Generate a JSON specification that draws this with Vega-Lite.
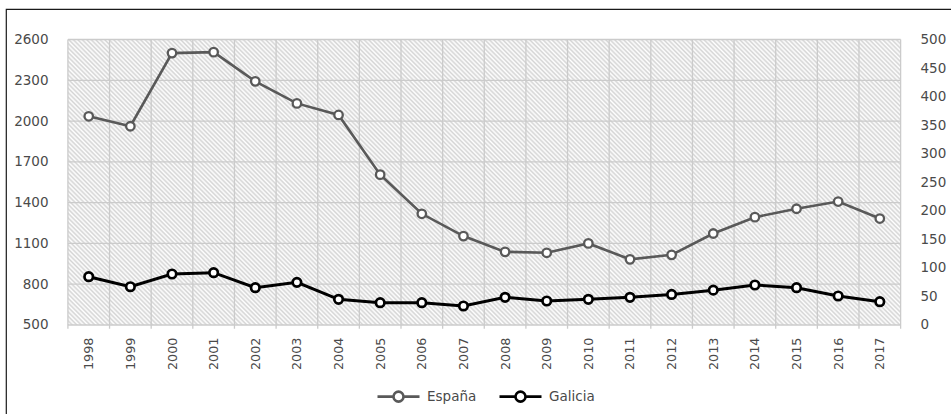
{
  "$schema": "https://vega.github.io/schema/vega-lite/v6.json",
  "width": 947,
  "height": 407,
  "autosize": {"type": "none"},
  "padding": {"left": 6, "top": 9, "right": -2, "bottom": -2},
  "background": "white",
  "config": {
    "view": {"stroke": "#1a1a1a", "strokeWidth": 1.2},
    "font": "DejaVu Sans"
  },
  "datasets": {
    "series": [
      {"year": 1998, "Espana": 2035, "Galicia": 84.6},
      {"year": 1999, "Espana": 1962, "Galicia": 67},
      {"year": 2000, "Espana": 2500, "Galicia": 89.3},
      {"year": 2001, "Espana": 2507, "Galicia": 91.6},
      {"year": 2002, "Espana": 2292, "Galicia": 65.3},
      {"year": 2003, "Espana": 2130, "Galicia": 74.7},
      {"year": 2004, "Espana": 2045, "Galicia": 45},
      {"year": 2005, "Espana": 1606, "Galicia": 39},
      {"year": 2006, "Espana": 1318, "Galicia": 39},
      {"year": 2007, "Espana": 1154, "Galicia": 33.3},
      {"year": 2008, "Espana": 1038, "Galicia": 48.5},
      {"year": 2009, "Espana": 1031, "Galicia": 42},
      {"year": 2010, "Espana": 1100, "Galicia": 45},
      {"year": 2011, "Espana": 983, "Galicia": 48.5},
      {"year": 2012, "Espana": 1016, "Galicia": 53.5},
      {"year": 2013, "Espana": 1173, "Galicia": 61},
      {"year": 2014, "Espana": 1293, "Galicia": 70},
      {"year": 2015, "Espana": 1355, "Galicia": 65.3},
      {"year": 2016, "Espana": 1408, "Galicia": 50.8},
      {"year": 2017, "Espana": 1283, "Galicia": 40.8}
    ],
    "xgrid": [
      {"b": 1997.5}, {"b": 1998.5}, {"b": 1999.5}, {"b": 2000.5}, {"b": 2001.5},
      {"b": 2002.5}, {"b": 2003.5}, {"b": 2004.5}, {"b": 2005.5}, {"b": 2006.5},
      {"b": 2007.5}, {"b": 2008.5}, {"b": 2009.5}, {"b": 2010.5}, {"b": 2011.5},
      {"b": 2012.5}, {"b": 2013.5}, {"b": 2014.5}, {"b": 2015.5}, {"b": 2016.5},
      {"b": 2017.5}
    ],
    "ygrid": [
      {"v": 500}, {"v": 800}, {"v": 1100}, {"v": 1400}, {"v": 1700},
      {"v": 2000}, {"v": 2300}, {"v": 2600}
    ],
    "one": [{"k": 1}]
  },
  "data": {"name": "series"},
  "layer": [
    {
      "layer": [
        {
          "data": {"name": "one"},
          "mark": {"type": "rect", "stroke": null, "fill": {"gradient": "linear", "x1": 0, "y1": 1, "x2": 1.2016, "y2": 0.588, "stops": [
{"offset":0,"color":"#d4d4d4"},{"offset":0.002,"color":"#fff"},{"offset":0.004,"color":"#d4d4d4"},{"offset":0.006,"color":"#fff"},{"offset":0.008,"color":"#d4d4d4"},{"offset":0.01,"color":"#fff"},{"offset":0.012,"color":"#d4d4d4"},{"offset":0.014,"color":"#fff"},{"offset":0.016,"color":"#d4d4d4"},{"offset":0.018,"color":"#fff"},
{"offset":0.02,"color":"#d4d4d4"},{"offset":0.022,"color":"#fff"},{"offset":0.024,"color":"#d4d4d4"},{"offset":0.026,"color":"#fff"},{"offset":0.028,"color":"#d4d4d4"},{"offset":0.03,"color":"#fff"},{"offset":0.032,"color":"#d4d4d4"},{"offset":0.034,"color":"#fff"},{"offset":0.036,"color":"#d4d4d4"},{"offset":0.038,"color":"#fff"},
{"offset":0.04,"color":"#d4d4d4"},{"offset":0.042,"color":"#fff"},{"offset":0.044,"color":"#d4d4d4"},{"offset":0.046,"color":"#fff"},{"offset":0.048,"color":"#d4d4d4"},{"offset":0.05,"color":"#fff"},{"offset":0.052,"color":"#d4d4d4"},{"offset":0.054,"color":"#fff"},{"offset":0.056,"color":"#d4d4d4"},{"offset":0.058,"color":"#fff"},
{"offset":0.06,"color":"#d4d4d4"},{"offset":0.062,"color":"#fff"},{"offset":0.064,"color":"#d4d4d4"},{"offset":0.066,"color":"#fff"},{"offset":0.068,"color":"#d4d4d4"},{"offset":0.07,"color":"#fff"},{"offset":0.072,"color":"#d4d4d4"},{"offset":0.074,"color":"#fff"},{"offset":0.076,"color":"#d4d4d4"},{"offset":0.078,"color":"#fff"},
{"offset":0.08,"color":"#d4d4d4"},{"offset":0.082,"color":"#fff"},{"offset":0.084,"color":"#d4d4d4"},{"offset":0.086,"color":"#fff"},{"offset":0.088,"color":"#d4d4d4"},{"offset":0.09,"color":"#fff"},{"offset":0.092,"color":"#d4d4d4"},{"offset":0.094,"color":"#fff"},{"offset":0.096,"color":"#d4d4d4"},{"offset":0.098,"color":"#fff"},
{"offset":0.1,"color":"#d4d4d4"},{"offset":0.102,"color":"#fff"},{"offset":0.104,"color":"#d4d4d4"},{"offset":0.106,"color":"#fff"},{"offset":0.108,"color":"#d4d4d4"},{"offset":0.11,"color":"#fff"},{"offset":0.112,"color":"#d4d4d4"},{"offset":0.114,"color":"#fff"},{"offset":0.116,"color":"#d4d4d4"},{"offset":0.118,"color":"#fff"},
{"offset":0.12,"color":"#d4d4d4"},{"offset":0.122,"color":"#fff"},{"offset":0.124,"color":"#d4d4d4"},{"offset":0.126,"color":"#fff"},{"offset":0.128,"color":"#d4d4d4"},{"offset":0.13,"color":"#fff"},{"offset":0.132,"color":"#d4d4d4"},{"offset":0.134,"color":"#fff"},{"offset":0.136,"color":"#d4d4d4"},{"offset":0.138,"color":"#fff"},
{"offset":0.14,"color":"#d4d4d4"},{"offset":0.142,"color":"#fff"},{"offset":0.144,"color":"#d4d4d4"},{"offset":0.146,"color":"#fff"},{"offset":0.148,"color":"#d4d4d4"},{"offset":0.15,"color":"#fff"},{"offset":0.152,"color":"#d4d4d4"},{"offset":0.154,"color":"#fff"},{"offset":0.156,"color":"#d4d4d4"},{"offset":0.158,"color":"#fff"},
{"offset":0.16,"color":"#d4d4d4"},{"offset":0.162,"color":"#fff"},{"offset":0.164,"color":"#d4d4d4"},{"offset":0.166,"color":"#fff"},{"offset":0.168,"color":"#d4d4d4"},{"offset":0.17,"color":"#fff"},{"offset":0.172,"color":"#d4d4d4"},{"offset":0.174,"color":"#fff"},{"offset":0.176,"color":"#d4d4d4"},{"offset":0.178,"color":"#fff"},
{"offset":0.18,"color":"#d4d4d4"},{"offset":0.182,"color":"#fff"},{"offset":0.184,"color":"#d4d4d4"},{"offset":0.186,"color":"#fff"},{"offset":0.188,"color":"#d4d4d4"},{"offset":0.19,"color":"#fff"},{"offset":0.192,"color":"#d4d4d4"},{"offset":0.194,"color":"#fff"},{"offset":0.196,"color":"#d4d4d4"},{"offset":0.198,"color":"#fff"},
{"offset":0.2,"color":"#d4d4d4"},{"offset":0.202,"color":"#fff"},{"offset":0.204,"color":"#d4d4d4"},{"offset":0.206,"color":"#fff"},{"offset":0.208,"color":"#d4d4d4"},{"offset":0.21,"color":"#fff"},{"offset":0.212,"color":"#d4d4d4"},{"offset":0.214,"color":"#fff"},{"offset":0.216,"color":"#d4d4d4"},{"offset":0.218,"color":"#fff"},
{"offset":0.22,"color":"#d4d4d4"},{"offset":0.222,"color":"#fff"},{"offset":0.224,"color":"#d4d4d4"},{"offset":0.226,"color":"#fff"},{"offset":0.228,"color":"#d4d4d4"},{"offset":0.23,"color":"#fff"},{"offset":0.232,"color":"#d4d4d4"},{"offset":0.234,"color":"#fff"},{"offset":0.236,"color":"#d4d4d4"},{"offset":0.238,"color":"#fff"},
{"offset":0.24,"color":"#d4d4d4"},{"offset":0.242,"color":"#fff"},{"offset":0.244,"color":"#d4d4d4"},{"offset":0.246,"color":"#fff"},{"offset":0.248,"color":"#d4d4d4"},{"offset":0.25,"color":"#fff"},{"offset":0.252,"color":"#d4d4d4"},{"offset":0.254,"color":"#fff"},{"offset":0.256,"color":"#d4d4d4"},{"offset":0.258,"color":"#fff"},
{"offset":0.26,"color":"#d4d4d4"},{"offset":0.262,"color":"#fff"},{"offset":0.264,"color":"#d4d4d4"},{"offset":0.266,"color":"#fff"},{"offset":0.268,"color":"#d4d4d4"},{"offset":0.27,"color":"#fff"},{"offset":0.272,"color":"#d4d4d4"},{"offset":0.274,"color":"#fff"},{"offset":0.276,"color":"#d4d4d4"},{"offset":0.278,"color":"#fff"},
{"offset":0.28,"color":"#d4d4d4"},{"offset":0.282,"color":"#fff"},{"offset":0.284,"color":"#d4d4d4"},{"offset":0.286,"color":"#fff"},{"offset":0.288,"color":"#d4d4d4"},{"offset":0.29,"color":"#fff"},{"offset":0.292,"color":"#d4d4d4"},{"offset":0.294,"color":"#fff"},{"offset":0.296,"color":"#d4d4d4"},{"offset":0.298,"color":"#fff"},
{"offset":0.3,"color":"#d4d4d4"},{"offset":0.302,"color":"#fff"},{"offset":0.304,"color":"#d4d4d4"},{"offset":0.306,"color":"#fff"},{"offset":0.308,"color":"#d4d4d4"},{"offset":0.31,"color":"#fff"},{"offset":0.312,"color":"#d4d4d4"},{"offset":0.314,"color":"#fff"},{"offset":0.316,"color":"#d4d4d4"},{"offset":0.318,"color":"#fff"},
{"offset":0.32,"color":"#d4d4d4"},{"offset":0.322,"color":"#fff"},{"offset":0.324,"color":"#d4d4d4"},{"offset":0.326,"color":"#fff"},{"offset":0.328,"color":"#d4d4d4"},{"offset":0.33,"color":"#fff"},{"offset":0.332,"color":"#d4d4d4"},{"offset":0.334,"color":"#fff"},{"offset":0.336,"color":"#d4d4d4"},{"offset":0.338,"color":"#fff"},
{"offset":0.34,"color":"#d4d4d4"},{"offset":0.342,"color":"#fff"},{"offset":0.344,"color":"#d4d4d4"},{"offset":0.346,"color":"#fff"},{"offset":0.348,"color":"#d4d4d4"},{"offset":0.35,"color":"#fff"},{"offset":0.352,"color":"#d4d4d4"},{"offset":0.354,"color":"#fff"},{"offset":0.356,"color":"#d4d4d4"},{"offset":0.358,"color":"#fff"},
{"offset":0.36,"color":"#d4d4d4"},{"offset":0.362,"color":"#fff"},{"offset":0.364,"color":"#d4d4d4"},{"offset":0.366,"color":"#fff"},{"offset":0.368,"color":"#d4d4d4"},{"offset":0.37,"color":"#fff"},{"offset":0.372,"color":"#d4d4d4"},{"offset":0.374,"color":"#fff"},{"offset":0.376,"color":"#d4d4d4"},{"offset":0.378,"color":"#fff"},
{"offset":0.38,"color":"#d4d4d4"},{"offset":0.382,"color":"#fff"},{"offset":0.384,"color":"#d4d4d4"},{"offset":0.386,"color":"#fff"},{"offset":0.388,"color":"#d4d4d4"},{"offset":0.39,"color":"#fff"},{"offset":0.392,"color":"#d4d4d4"},{"offset":0.394,"color":"#fff"},{"offset":0.396,"color":"#d4d4d4"},{"offset":0.398,"color":"#fff"},
{"offset":0.4,"color":"#d4d4d4"},{"offset":0.402,"color":"#fff"},{"offset":0.404,"color":"#d4d4d4"},{"offset":0.406,"color":"#fff"},{"offset":0.408,"color":"#d4d4d4"},{"offset":0.41,"color":"#fff"},{"offset":0.412,"color":"#d4d4d4"},{"offset":0.414,"color":"#fff"},{"offset":0.416,"color":"#d4d4d4"},{"offset":0.418,"color":"#fff"},
{"offset":0.42,"color":"#d4d4d4"},{"offset":0.422,"color":"#fff"},{"offset":0.424,"color":"#d4d4d4"},{"offset":0.426,"color":"#fff"},{"offset":0.428,"color":"#d4d4d4"},{"offset":0.43,"color":"#fff"},{"offset":0.432,"color":"#d4d4d4"},{"offset":0.434,"color":"#fff"},{"offset":0.436,"color":"#d4d4d4"},{"offset":0.438,"color":"#fff"},
{"offset":0.44,"color":"#d4d4d4"},{"offset":0.442,"color":"#fff"},{"offset":0.444,"color":"#d4d4d4"},{"offset":0.446,"color":"#fff"},{"offset":0.448,"color":"#d4d4d4"},{"offset":0.45,"color":"#fff"},{"offset":0.452,"color":"#d4d4d4"},{"offset":0.454,"color":"#fff"},{"offset":0.456,"color":"#d4d4d4"},{"offset":0.458,"color":"#fff"},
{"offset":0.46,"color":"#d4d4d4"},{"offset":0.462,"color":"#fff"},{"offset":0.464,"color":"#d4d4d4"},{"offset":0.466,"color":"#fff"},{"offset":0.468,"color":"#d4d4d4"},{"offset":0.47,"color":"#fff"},{"offset":0.472,"color":"#d4d4d4"},{"offset":0.474,"color":"#fff"},{"offset":0.476,"color":"#d4d4d4"},{"offset":0.478,"color":"#fff"},
{"offset":0.48,"color":"#d4d4d4"},{"offset":0.482,"color":"#fff"},{"offset":0.484,"color":"#d4d4d4"},{"offset":0.486,"color":"#fff"},{"offset":0.488,"color":"#d4d4d4"},{"offset":0.49,"color":"#fff"},{"offset":0.492,"color":"#d4d4d4"},{"offset":0.494,"color":"#fff"},{"offset":0.496,"color":"#d4d4d4"},{"offset":0.498,"color":"#fff"},
{"offset":0.5,"color":"#d4d4d4"},{"offset":0.502,"color":"#fff"},{"offset":0.504,"color":"#d4d4d4"},{"offset":0.506,"color":"#fff"},{"offset":0.508,"color":"#d4d4d4"},{"offset":0.51,"color":"#fff"},{"offset":0.512,"color":"#d4d4d4"},{"offset":0.514,"color":"#fff"},{"offset":0.516,"color":"#d4d4d4"},{"offset":0.518,"color":"#fff"},
{"offset":0.52,"color":"#d4d4d4"},{"offset":0.522,"color":"#fff"},{"offset":0.524,"color":"#d4d4d4"},{"offset":0.526,"color":"#fff"},{"offset":0.528,"color":"#d4d4d4"},{"offset":0.53,"color":"#fff"},{"offset":0.532,"color":"#d4d4d4"},{"offset":0.534,"color":"#fff"},{"offset":0.536,"color":"#d4d4d4"},{"offset":0.538,"color":"#fff"},
{"offset":0.54,"color":"#d4d4d4"},{"offset":0.542,"color":"#fff"},{"offset":0.544,"color":"#d4d4d4"},{"offset":0.546,"color":"#fff"},{"offset":0.548,"color":"#d4d4d4"},{"offset":0.55,"color":"#fff"},{"offset":0.552,"color":"#d4d4d4"},{"offset":0.554,"color":"#fff"},{"offset":0.556,"color":"#d4d4d4"},{"offset":0.558,"color":"#fff"},
{"offset":0.56,"color":"#d4d4d4"},{"offset":0.562,"color":"#fff"},{"offset":0.564,"color":"#d4d4d4"},{"offset":0.566,"color":"#fff"},{"offset":0.568,"color":"#d4d4d4"},{"offset":0.57,"color":"#fff"},{"offset":0.572,"color":"#d4d4d4"},{"offset":0.574,"color":"#fff"},{"offset":0.576,"color":"#d4d4d4"},{"offset":0.578,"color":"#fff"},
{"offset":0.58,"color":"#d4d4d4"},{"offset":0.582,"color":"#fff"},{"offset":0.584,"color":"#d4d4d4"},{"offset":0.586,"color":"#fff"},{"offset":0.588,"color":"#d4d4d4"},{"offset":0.59,"color":"#fff"},{"offset":0.592,"color":"#d4d4d4"},{"offset":0.594,"color":"#fff"},{"offset":0.596,"color":"#d4d4d4"},{"offset":0.598,"color":"#fff"},
{"offset":0.6,"color":"#d4d4d4"},{"offset":0.602,"color":"#fff"},{"offset":0.604,"color":"#d4d4d4"},{"offset":0.606,"color":"#fff"},{"offset":0.608,"color":"#d4d4d4"},{"offset":0.61,"color":"#fff"},{"offset":0.612,"color":"#d4d4d4"},{"offset":0.614,"color":"#fff"},{"offset":0.616,"color":"#d4d4d4"},{"offset":0.618,"color":"#fff"},
{"offset":0.62,"color":"#d4d4d4"},{"offset":0.622,"color":"#fff"},{"offset":0.624,"color":"#d4d4d4"},{"offset":0.626,"color":"#fff"},{"offset":0.628,"color":"#d4d4d4"},{"offset":0.63,"color":"#fff"},{"offset":0.632,"color":"#d4d4d4"},{"offset":0.634,"color":"#fff"},{"offset":0.636,"color":"#d4d4d4"},{"offset":0.638,"color":"#fff"},
{"offset":0.64,"color":"#d4d4d4"},{"offset":0.642,"color":"#fff"},{"offset":0.644,"color":"#d4d4d4"},{"offset":0.646,"color":"#fff"},{"offset":0.648,"color":"#d4d4d4"},{"offset":0.65,"color":"#fff"},{"offset":0.652,"color":"#d4d4d4"},{"offset":0.654,"color":"#fff"},{"offset":0.656,"color":"#d4d4d4"},{"offset":0.658,"color":"#fff"},
{"offset":0.66,"color":"#d4d4d4"},{"offset":0.662,"color":"#fff"},{"offset":0.664,"color":"#d4d4d4"},{"offset":0.666,"color":"#fff"},{"offset":0.668,"color":"#d4d4d4"},{"offset":0.67,"color":"#fff"},{"offset":0.672,"color":"#d4d4d4"},{"offset":0.674,"color":"#fff"},{"offset":0.676,"color":"#d4d4d4"},{"offset":0.678,"color":"#fff"},
{"offset":0.68,"color":"#d4d4d4"},{"offset":0.682,"color":"#fff"},{"offset":0.684,"color":"#d4d4d4"},{"offset":0.686,"color":"#fff"},{"offset":0.688,"color":"#d4d4d4"},{"offset":0.69,"color":"#fff"},{"offset":0.692,"color":"#d4d4d4"},{"offset":0.694,"color":"#fff"},{"offset":0.696,"color":"#d4d4d4"},{"offset":0.698,"color":"#fff"},
{"offset":0.7,"color":"#d4d4d4"},{"offset":0.702,"color":"#fff"},{"offset":0.704,"color":"#d4d4d4"},{"offset":0.706,"color":"#fff"},{"offset":0.708,"color":"#d4d4d4"},{"offset":0.71,"color":"#fff"},{"offset":0.712,"color":"#d4d4d4"},{"offset":0.714,"color":"#fff"},{"offset":0.716,"color":"#d4d4d4"},{"offset":0.718,"color":"#fff"},
{"offset":0.72,"color":"#d4d4d4"},{"offset":0.722,"color":"#fff"},{"offset":0.724,"color":"#d4d4d4"},{"offset":0.726,"color":"#fff"},{"offset":0.728,"color":"#d4d4d4"},{"offset":0.73,"color":"#fff"},{"offset":0.732,"color":"#d4d4d4"},{"offset":0.734,"color":"#fff"},{"offset":0.736,"color":"#d4d4d4"},{"offset":0.738,"color":"#fff"},
{"offset":0.74,"color":"#d4d4d4"},{"offset":0.742,"color":"#fff"},{"offset":0.744,"color":"#d4d4d4"},{"offset":0.746,"color":"#fff"},{"offset":0.748,"color":"#d4d4d4"},{"offset":0.75,"color":"#fff"},{"offset":0.752,"color":"#d4d4d4"},{"offset":0.754,"color":"#fff"},{"offset":0.756,"color":"#d4d4d4"},{"offset":0.758,"color":"#fff"},
{"offset":0.76,"color":"#d4d4d4"},{"offset":0.762,"color":"#fff"},{"offset":0.764,"color":"#d4d4d4"},{"offset":0.766,"color":"#fff"},{"offset":0.768,"color":"#d4d4d4"},{"offset":0.77,"color":"#fff"},{"offset":0.772,"color":"#d4d4d4"},{"offset":0.774,"color":"#fff"},{"offset":0.776,"color":"#d4d4d4"},{"offset":0.778,"color":"#fff"},
{"offset":0.78,"color":"#d4d4d4"},{"offset":0.782,"color":"#fff"},{"offset":0.784,"color":"#d4d4d4"},{"offset":0.786,"color":"#fff"},{"offset":0.788,"color":"#d4d4d4"},{"offset":0.79,"color":"#fff"},{"offset":0.792,"color":"#d4d4d4"},{"offset":0.794,"color":"#fff"},{"offset":0.796,"color":"#d4d4d4"},{"offset":0.798,"color":"#fff"},
{"offset":0.8,"color":"#d4d4d4"},{"offset":0.802,"color":"#fff"},{"offset":0.804,"color":"#d4d4d4"},{"offset":0.806,"color":"#fff"},{"offset":0.808,"color":"#d4d4d4"},{"offset":0.81,"color":"#fff"},{"offset":0.812,"color":"#d4d4d4"},{"offset":0.814,"color":"#fff"},{"offset":0.816,"color":"#d4d4d4"},{"offset":0.818,"color":"#fff"},
{"offset":0.82,"color":"#d4d4d4"},{"offset":0.822,"color":"#fff"},{"offset":0.824,"color":"#d4d4d4"},{"offset":0.826,"color":"#fff"},{"offset":0.828,"color":"#d4d4d4"},{"offset":0.83,"color":"#fff"},{"offset":0.832,"color":"#d4d4d4"},{"offset":0.834,"color":"#fff"},{"offset":0.836,"color":"#d4d4d4"},{"offset":0.838,"color":"#fff"},
{"offset":0.84,"color":"#d4d4d4"},{"offset":0.842,"color":"#fff"},{"offset":0.844,"color":"#d4d4d4"},{"offset":0.846,"color":"#fff"},{"offset":0.848,"color":"#d4d4d4"},{"offset":0.85,"color":"#fff"},{"offset":0.852,"color":"#d4d4d4"},{"offset":0.854,"color":"#fff"},{"offset":0.856,"color":"#d4d4d4"},{"offset":0.858,"color":"#fff"},
{"offset":0.86,"color":"#d4d4d4"},{"offset":0.862,"color":"#fff"},{"offset":0.864,"color":"#d4d4d4"},{"offset":0.866,"color":"#fff"},{"offset":0.868,"color":"#d4d4d4"},{"offset":0.87,"color":"#fff"},{"offset":0.872,"color":"#d4d4d4"},{"offset":0.874,"color":"#fff"},{"offset":0.876,"color":"#d4d4d4"},{"offset":0.878,"color":"#fff"},
{"offset":0.88,"color":"#d4d4d4"},{"offset":0.882,"color":"#fff"},{"offset":0.884,"color":"#d4d4d4"},{"offset":0.886,"color":"#fff"},{"offset":0.888,"color":"#d4d4d4"},{"offset":0.89,"color":"#fff"},{"offset":0.892,"color":"#d4d4d4"},{"offset":0.894,"color":"#fff"},{"offset":0.896,"color":"#d4d4d4"},{"offset":0.898,"color":"#fff"},
{"offset":0.9,"color":"#d4d4d4"},{"offset":0.902,"color":"#fff"},{"offset":0.904,"color":"#d4d4d4"},{"offset":0.906,"color":"#fff"},{"offset":0.908,"color":"#d4d4d4"},{"offset":0.91,"color":"#fff"},{"offset":0.912,"color":"#d4d4d4"},{"offset":0.914,"color":"#fff"},{"offset":0.916,"color":"#d4d4d4"},{"offset":0.918,"color":"#fff"},
{"offset":0.92,"color":"#d4d4d4"},{"offset":0.922,"color":"#fff"},{"offset":0.924,"color":"#d4d4d4"},{"offset":0.926,"color":"#fff"},{"offset":0.928,"color":"#d4d4d4"},{"offset":0.93,"color":"#fff"},{"offset":0.932,"color":"#d4d4d4"},{"offset":0.934,"color":"#fff"},{"offset":0.936,"color":"#d4d4d4"},{"offset":0.938,"color":"#fff"},
{"offset":0.94,"color":"#d4d4d4"},{"offset":0.942,"color":"#fff"},{"offset":0.944,"color":"#d4d4d4"},{"offset":0.946,"color":"#fff"},{"offset":0.948,"color":"#d4d4d4"},{"offset":0.95,"color":"#fff"},{"offset":0.952,"color":"#d4d4d4"},{"offset":0.954,"color":"#fff"},{"offset":0.956,"color":"#d4d4d4"},{"offset":0.958,"color":"#fff"},
{"offset":0.96,"color":"#d4d4d4"},{"offset":0.962,"color":"#fff"},{"offset":0.964,"color":"#d4d4d4"},{"offset":0.966,"color":"#fff"},{"offset":0.968,"color":"#d4d4d4"},{"offset":0.97,"color":"#fff"},{"offset":0.972,"color":"#d4d4d4"},{"offset":0.974,"color":"#fff"},{"offset":0.976,"color":"#d4d4d4"},{"offset":0.978,"color":"#fff"},
{"offset":0.98,"color":"#d4d4d4"},{"offset":0.982,"color":"#fff"},{"offset":0.984,"color":"#d4d4d4"},{"offset":0.986,"color":"#fff"},{"offset":0.988,"color":"#d4d4d4"},{"offset":0.99,"color":"#fff"},{"offset":0.992,"color":"#d4d4d4"},{"offset":0.994,"color":"#fff"},{"offset":0.996,"color":"#d4d4d4"},{"offset":0.998,"color":"#fff"},
{"offset":1,"color":"#d4d4d4"}
          ]}},
          "encoding": {
            "x": {"datum": 1997.5, "type": "quantitative", "scale": {"domain": [1996.013, 2018.758], "nice": false, "zero": false}, "title": null},
            "x2": {"datum": 2017.5},
            "y": {"datum": 500, "type": "quantitative", "scale": {"domain": [-169.35, 2824.3], "nice": false, "zero": false}, "title": null},
            "y2": {"datum": 2600}
          }
        },
        {
          "data": {"name": "xgrid"},
          "mark": {"type": "rule", "color": "#cbcbcb", "strokeWidth": 1.3},
          "encoding": {
            "x": {"field": "b", "type": "quantitative", "title": null},
            "y": {"datum": 472, "type": "quantitative", "title": null},
            "y2": {"datum": 2600}
          }
        },
        {
          "data": {"name": "ygrid"},
          "mark": {"type": "rule", "color": "#cbcbcb", "strokeWidth": 1.3},
          "encoding": {
            "y": {"field": "v", "type": "quantitative", "title": null},
            "x": {"datum": 1997.5, "type": "quantitative", "title": null},
            "x2": {"datum": 2017.5}
          }
        },
        {
          "mark": {"type": "line", "strokeWidth": 2.6, "point": {"filled": false, "fill": "white", "size": 72, "strokeWidth": 2.3}},
          "encoding": {
            "x": {
              "field": "year", "type": "quantitative", "title": null,
              "axis": {
                "orient": "bottom", "values": [1998,1999,2000,2001,2002,2003,2004,2005,2006,2007,2008,2009,2010,2011,2012,2013,2014,2015,2016,2017],
                "format": "d", "labelAngle": -90, "labelFontSize": 12.8, "labelColor": "#4a4a4a",
                "labelFont": "DejaVu Sans", "domain": false, "ticks": false, "tickSize": 0, "grid": false,
                "labelPadding": 3, "offset": -82, "labelOverlap": false, "labelFlush": false
              }
            },
            "y": {
              "field": "Espana", "type": "quantitative", "title": null,
              "axis": {
                "orient": "left", "values": [500, 800, 1100, 1400, 1700, 2000, 2300, 2600], "format": "d",
                "labelFontSize": 13.5, "labelColor": "#4a4a4a", "labelFont": "DejaVu Sans",
                "domain": false, "ticks": false, "tickSize": 0, "grid": false,
                "labelPadding": 2, "offset": -44, "labelOverlap": false, "labelFlush": false
              }
            },
            "color": {
              "datum": "España", "type": "nominal",
              "scale": {"domain": ["España", "Galicia"], "range": ["#595959", "#000000"]},
              "legend": {
                "title": null, "orient": "none", "direction": "horizontal",
                "legendX": 370, "legendY": 365, "padding": 0,
                "symbolType": "M-1,0L-0.238,0M0.238,0L1,0M0.238,0A0.238,0.238,0,1,1,-0.238,0A0.238,0.238,0,1,1,0.238,0Z",
                "symbolSize": 1764, "symbolStrokeWidth": 2.6, "symbolFillColor": "white",
                "labelFontSize": 13.5, "labelColor": "#4a4a4a", "labelFont": "DejaVu Sans",
                "labelOffset": 6, "columnPadding": 17,
                "encode": {"symbols": {"update": {"fill": {"value": "white"}, "strokeWidth": {"value": 2.6}}}}
              }
            }
          }
        }
      ]
    },
    {
      "mark": {"type": "line", "strokeWidth": 3, "point": {"filled": false, "fill": "white", "size": 72, "strokeWidth": 2.7}},
      "encoding": {
        "x": {"field": "year", "type": "quantitative", "title": null},
        "y": {
          "field": "Galicia", "type": "quantitative", "title": null,
          "scale": {"domain": [-159.4, 553.4], "nice": false, "zero": false},
          "axis": {
            "orient": "right", "values": [0, 50, 100, 150, 200, 250, 300, 350, 400, 450, 500],
            "labelFontSize": 13.5, "labelColor": "#4a4a4a", "labelFont": "DejaVu Sans",
            "domain": false, "ticks": false, "tickSize": 0, "grid": false,
            "labelPadding": 2, "offset": -35, "labelOverlap": false, "labelFlush": false
          }
        },
        "color": {"datum": "Galicia", "type": "nominal"}
      }
    }
  ],
  "resolve": {"scale": {"y": "independent"}}
}
